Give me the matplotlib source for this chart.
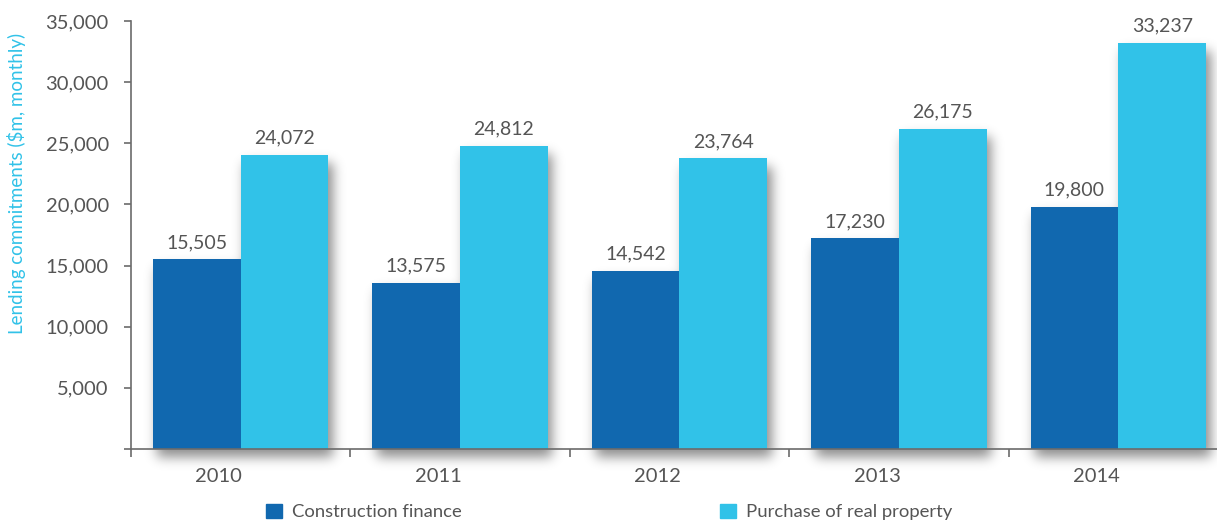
import numpy as np
import matplotlib
matplotlib.use("Agg")
import matplotlib.pyplot as plt
from matplotlib.patches import Patch
from matplotlib.ticker import FuncFormatter

# ---------- data ----------
years = ["2010", "2011", "2012", "2013", "2014"]
construction = [15505, 13575, 14542, 17230, 19800]
purchase = [24072, 24812, 23764, 26175, 33237]

DARK = "#1168AF"
LIGHT = "#31C2E8"
GREY = "#555555"
AXIS = "#6b6b6b"

plt.rcParams["font.family"] = ["Lato", "DejaVu Sans"]

fig = plt.figure(figsize=(12.17, 5.22), dpi=100)
ax = fig.add_axes([131 / 1217, 73 / 522, 1 - 131 / 1217, 428 / 522])
ax.set_zorder(1)
ax.patch.set_alpha(0)

x = np.arange(len(years))
w = 0.4
b1 = ax.bar(x - w / 2, construction, w, color=DARK, label="Construction finance")
b2 = ax.bar(x + w / 2, purchase, w, color=LIGHT, label="Purchase of real property")

# value labels
for bars, vals in ((b1, construction), (b2, purchase)):
    for r, v in zip(bars, vals):
        ax.annotate(f"{v:,}", (r.get_x() + r.get_width() / 2, v),
                    xytext=(0, 6), textcoords="offset points",
                    ha="center", va="bottom", fontsize=14, color=GREY)

# axes styling
for s in ("top", "right"):
    ax.spines[s].set_visible(False)
for s in ("left", "bottom"):
    ax.spines[s].set_color(AXIS)
    ax.spines[s].set_linewidth(1.2)

ax.set_yticks(np.arange(0, 35001, 5000))
ax.yaxis.set_major_formatter(FuncFormatter(lambda v, p: "" if v == 0 else f"{int(v):,}"))
ax.tick_params(axis="y", length=5, width=1.2, color=AXIS, pad=11,
               labelsize=14.5, labelcolor=GREY)

# year labels sit a little left of the group centre
ax.set_xticks(x - 0.1)
ax.set_xticklabels(years)
ax.set_xticks(np.arange(-0.5, 4.0, 1), minor=True)
ax.tick_params(axis="x", which="major", length=0, pad=14, labelsize=14.5, labelcolor=GREY)
ax.tick_params(axis="x", which="minor", length=6, width=1.2, color=AXIS)

# limits last, so tick setting can't widen them
ax.set_xlim(-0.5, 4.45)
ax.set_ylim(0, 35000)

ax.set_ylabel("Lending commitments ($m, monthly)", color=LIGHT, fontsize=13.5)
ax.yaxis.set_label_coords(-0.097, 0.62)

# soft drop shadow behind each bar
W, H = 1217, 522
mask = np.zeros((H, W))
fig.canvas.draw()
for r in list(b1) + list(b2):
    (x0, y0), (x1, y1) = ax.transData.transform([(r.get_x(), 0), (r.get_x() + r.get_width(), r.get_height())])
    dx, dy = 5, -8
    mask[max(int(y0 + dy), 0):int(y1 + dy), int(x0 + dx):min(int(x1 + dx), W)] = 1.0

sigma = 6.0
k = np.arange(-20, 21)
kern = np.exp(-k ** 2 / (2 * sigma ** 2))
kern /= kern.sum()
blur = np.apply_along_axis(lambda m: np.convolve(m, kern, mode="same"), 1, mask)
blur = np.apply_along_axis(lambda m: np.convolve(m, kern, mode="same"), 0, blur)
shadow = np.zeros((H, W, 4))
shadow[..., 3] = np.clip(blur, 0, 1) * 0.45
fig.figimage(shadow, 0, 0, origin="lower", zorder=0)

# legend, split across the bottom
for color, text, left in ((DARK, "Construction finance", 266),
                          (LIGHT, "Purchase of real property", 720)):
    fig.legend(handles=[Patch(color=color)], labels=[text],
               loc="center left", bbox_to_anchor=(left / 1217, 10 / 522), frameon=False,
               fontsize=13.3, handlelength=0.85, handleheight=0.85, handletextpad=0.55,
               borderpad=0, borderaxespad=0, labelcolor=GREY)

fig.savefig("out.png", dpi=100)
